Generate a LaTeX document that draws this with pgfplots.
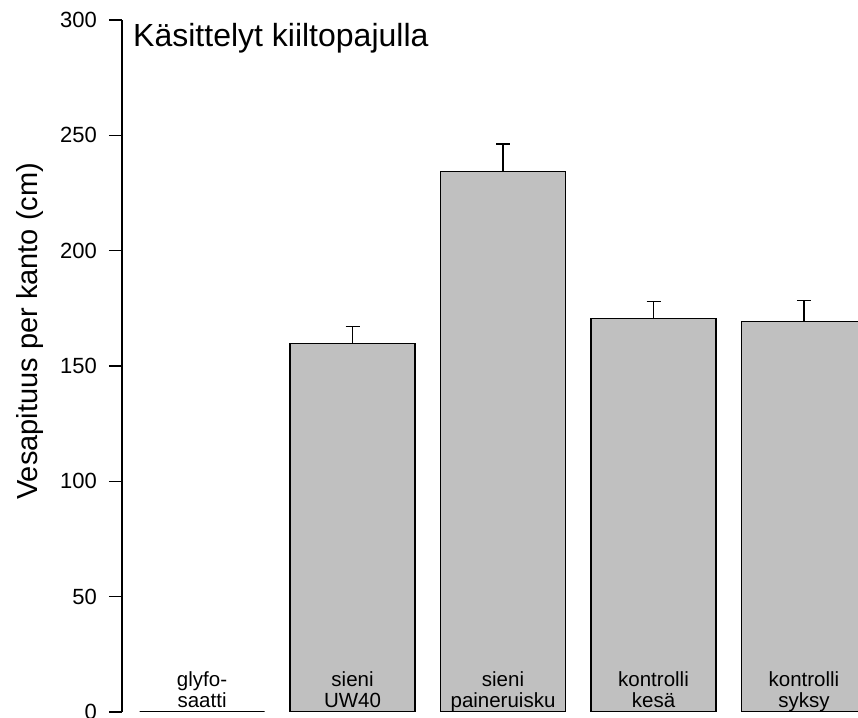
\documentclass[border=0pt]{standalone}
\usepackage{pgfplots}
\pgfplotsset{compat=1.18}
\usepackage{fontspec}
\setmainfont{Liberation Sans}
\definecolor{bargray}{RGB}{192,192,192}
\begin{document}
\begin{tikzpicture}[x=1bp,y=1bp]
\begin{axis}[
  at={(122bp,6bp)}, anchor=south west,
  scale only axis,
  width=736bp, height=692bp,
  xmin=-0.532, xmax=4.359,
  ymin=0, ymax=300,
  ytick={0,50,100,150,200,250,300},
  xtick={0,1,2,3,4},
  axis x line=none,
  axis y line=left,
  axis line style={-, line width=1.4bp, black},
  y axis line style={-},
  ytick align=outside,
  major tick length=13bp,
  ytick style={line width=1.4bp, black},
  /pgf/number format/assume math mode=true,
  yticklabel style={font=\fontsize{22bp}{24bp}\selectfont, inner sep=0pt, xshift=-12bp},
  ylabel={Vesapituus per kanto (cm)},
  ylabel style={font=\fontsize{29bp}{30bp}\selectfont, at={(axis description cs:-0.125,0.55)}, anchor=center},
  ybar, bar width=0.83,
  clip=true,
]
\addplot[fill=bargray, draw=black, line width=1.4bp,
  error bars/.cd, y dir=plus, y explicit,
  error bar style={line width=1.4bp, black},
  error mark options={rotate=90, line width=1.4bp, mark size=7bp, black}]
  coordinates {
  (0,0) +- (0,0)
  (1,159.8) +- (0,7.2)
  (2,234.2) +- (0,12.0)
  (3,170.6) +- (0,7.3)
  (4,169.4) +- (0,9.0)
  };
\node[anchor=base west, font=\fontsize{32bp}{36bp}\selectfont, inner sep=0pt] at (rel axis cs:0.015,0.961) {Käsittelyt kiiltopajulla};
\end{axis}
\begin{axis}[
  at={(122bp,6bp)}, anchor=south west,
  scale only axis,
  width=736bp, height=692bp,
  xmin=-0.532, xmax=4.359,
  ymin=0, ymax=300,
  hide y axis,
  axis x line=bottom,
  x axis line style={draw=none},
  xtick={0,1,2,3,4},
  xticklabels={{glyfo-\\saatti},{sieni\\UW40},{sieni\\paineruisku},{kontrolli\\kesä},{kontrolli\\syksy}},
  major x tick style={draw=none},
  xtick align=inside,
  major tick length=0pt,
  xticklabel style={font=\fontsize{20.5bp}{21bp}\selectfont, align=center, anchor=south, inner sep=0pt, text depth=0pt, yshift=4bp},
]
\end{axis}
\pgfresetboundingbox
\path[use as bounding box] (0,0) rectangle (858bp,718bp);
\end{tikzpicture}
\end{document}
